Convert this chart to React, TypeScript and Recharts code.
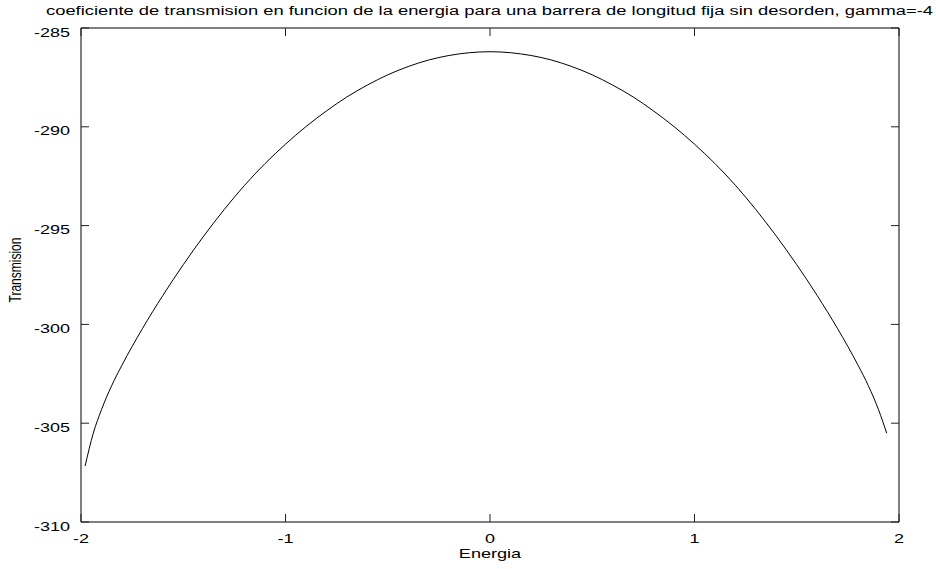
import { LineChart, Line, XAxis, YAxis, ReferenceLine } from "recharts";

const energia = [
  -1.98, -1.94, -1.9, -1.85, -1.8, -1.7, -1.6, -1.5, -1.4, -1.3, -1.2, -1.1, -1.0,
  -0.9, -0.8, -0.7, -0.6, -0.5, -0.4, -0.3, -0.2, -0.1, 0,
  0.1, 0.2, 0.3, 0.4, 0.5, 0.6, 0.7, 0.8, 0.9, 1.0, 1.1, 1.2, 1.3, 1.4, 1.5,
  1.6, 1.7, 1.8, 1.85, 1.9, 1.94,
];

const transmision = [
  -307.17, -305.51, -304.32, -303.1, -302.07, -300.22, -298.54, -296.98, -295.53, -294.19,
  -292.96, -291.86, -290.88, -289.99, -289.2, -288.49, -287.89, -287.37, -286.95, -286.62,
  -286.39, -286.25, -286.2,
  -286.25, -286.39, -286.62, -286.95, -287.37, -287.89, -288.49, -289.2, -289.99, -290.88,
  -291.86, -292.96, -294.19, -295.53, -296.98, -298.54, -300.22, -302.07, -303.1, -304.32,
  -305.51,
];

const xTicks = [-2, -1, 0, 1, 2];
const yTicks = [-310, -305, -300, -295, -290, -285];

const data = energia.map((e, i) => ({ energia: e, transmision: transmision[i] }));

const W = 936;
const H = 569;
const PLOT_LEFT = 81;
const PLOT_RIGHT = 899;
const PLOT_TOP = 28;
const PLOT_BOTTOM = 522;
const TICK = 8;
const STRETCH = 1.5; // text is drawn wide and short
const FONT = "'Liberation Sans', Arial, Helvetica, sans-serif";

const XTick = (props: any) => {
  const { x, payload } = props;
  return (
    <g>
      <line x1={x} x2={x} y1={PLOT_BOTTOM} y2={PLOT_BOTTOM - TICK} stroke="#222" />
      <line x1={x} x2={x} y1={PLOT_TOP} y2={PLOT_TOP + TICK} stroke="#222" />
      <text
        transform={`translate(${x},${PLOT_BOTTOM + 21}) scale(${STRETCH},1)`}
        textAnchor="middle"
        fontSize={12}
        fill="#000"
        fontFamily={FONT}
      >
        {payload.value}
      </text>
    </g>
  );
};

const YTick = (props: any) => {
  const { y, payload } = props;
  return (
    <g>
      <line x1={PLOT_LEFT} x2={PLOT_LEFT + TICK} y1={y} y2={y} stroke="#222" />
      <line x1={PLOT_RIGHT} x2={PLOT_RIGHT - TICK} y1={y} y2={y} stroke="#222" />
      <text
        transform={`translate(70,${y + 8.5}) scale(${STRETCH},1)`}
        textAnchor="end"
        fontSize={12}
        fill="#000"
        fontFamily={FONT}
      >
        {payload.value}
      </text>
    </g>
  );
};

export default function App() {
  return (
    <div style={{ position: "absolute", left: 0, top: 0, width: W, height: H, background: "#fff" }}>
      <LineChart
        width={W}
        height={H}
        data={data}
        margin={{ top: PLOT_TOP, right: W - PLOT_RIGHT, bottom: 0, left: 0 }}
      >
        <XAxis
          dataKey="energia"
          type="number"
          domain={[-2, 2]}
          ticks={xTicks}
          height={H - PLOT_BOTTOM}
          axisLine={{ stroke: "#000" }}
          tickLine={false}
          tick={(p: any) => <XTick {...p} />}
          interval={0}
          allowDataOverflow
        />
        <YAxis
          type="number"
          domain={[-310, -285]}
          ticks={yTicks}
          width={PLOT_LEFT}
          axisLine={{ stroke: "#000" }}
          tickLine={false}
          tick={(p: any) => <YTick {...p} />}
          interval={0}
          allowDataOverflow
        />
        {/* closing the frame on top and right */}
        <ReferenceLine y={-285} stroke="#000" ifOverflow="extendDomain" />
        <ReferenceLine x={2} stroke="#000" ifOverflow="extendDomain" />
        <Line
          dataKey="transmision"
          type="monotone"
          stroke="#000"
          strokeWidth={1}
          dot={false}
          isAnimationActive={false}
        />
      </LineChart>
      <svg
        width={W}
        height={H}
        style={{ position: "absolute", left: 0, top: 0, pointerEvents: "none" }}
      >
        <text
          x={46}
          y={15}
          fontSize={12.5}
          fontFamily={FONT}
          fill="#000"
          textLength={887}
          lengthAdjust="spacingAndGlyphs"
        >
          coeficiente de transmision en funcion de la energia para una barrera de longitud fija sin desorden, gamma=-4
        </text>
        <text
          transform={`translate(490,558) scale(1.45,1)`}
          textAnchor="middle"
          fontSize={12.5}
          fontFamily={FONT}
          fill="#000"
        >
          Energia
        </text>
        <text
          transform={`translate(21,270) scale(1.45,1) rotate(-90)`}
          textAnchor="middle"
          fontSize={12}
          fontFamily={FONT}
          fill="#000"
        >
          Transmision
        </text>
      </svg>
    </div>
  );
}
